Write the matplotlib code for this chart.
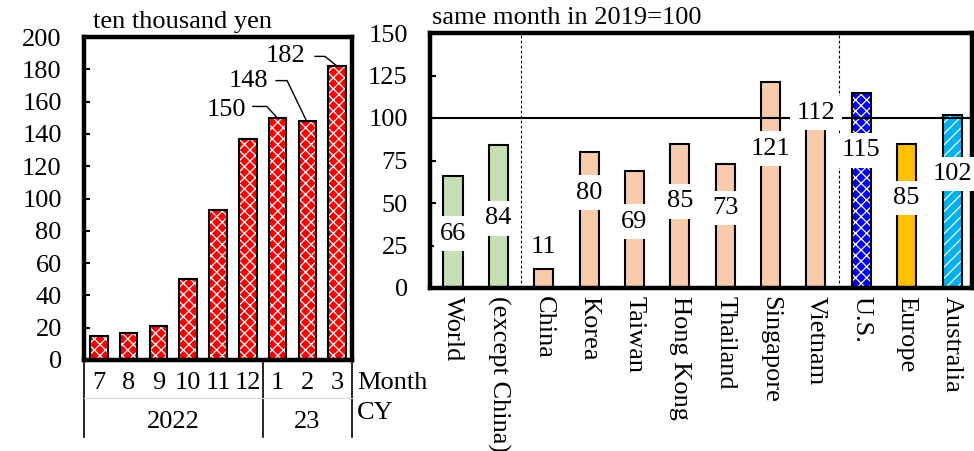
import numpy as np
import matplotlib
matplotlib.use("Agg")
import matplotlib.pyplot as plt
import matplotlib.transforms as mtransforms

# monthly spending per visitor (ten thousand yen)
months = ["7", "8", "9", "10", "11", "12", "1", "2", "3"]
years = ["2022", "23"]
spend = [15, 17, 21, 50, 93, 137, 150, 148, 182]

# visitors by origin, same month in 2019 = 100
regions = ["World", "(except China)", "China", "Korea", "Taiwan", "Hong Kong",
           "Thailand", "Singapore", "Vietnam", "U.S.", "Europe", "Australia"]
index = [66, 84, 11, 80, 69, 85, 73, 121, 112, 115, 85, 102]

plt.rcParams["font.family"] = ["Liberation Serif", "DejaVu Serif"]
plt.rcParams["hatch.linewidth"] = 0.9
FS = 19

fig = plt.figure(figsize=(9.74, 4.51), dpi=100)


def draw_bars(ax, x, h, width, color, hatch=None):
    # fill (hatch colour comes from the edge colour), then a black outline on top
    if hatch:
        ax.bar(x, h, width, color=color, edgecolor="white", hatch=hatch,
               linewidth=0, zorder=2)
    else:
        ax.bar(x, h, width, color=color, linewidth=0, zorder=2)
    ax.bar(x, h, width, fill=False, edgecolor="black", linewidth=1.5, zorder=2.5)


# ---------------- left panel ----------------
axL = fig.add_axes([84 / 974, 91 / 451, 268 / 974, 323 / 451])
xl = np.arange(len(spend))
draw_bars(axL, xl, spend, 0.59, "#ff0000", hatch="xxx")
axL.set_xlim(-0.5, len(spend) - 0.5)
axL.set_ylim(0, 200)
axL.set_yticks(range(0, 201, 20))
axL.set_xticks([])
axL.tick_params(axis="y", direction="in", length=4, width=1.5, pad=16, labelsize=FS)
for s in axL.spines.values():
    s.set_linewidth(3.2)

# leader-line labels for the last three months
callouts = {6: (4.27, 155, 5.17, 5.64, 157), 7: (5.01, 173, 5.95, 6.32, 173),
            8: (6.28, 188, 7.26, 7.59, 188)}
for i, (tx, ty, x0, x1, ly) in callouts.items():
    axL.text(tx, ty, str(spend[i]), fontsize=FS, ha="center", va="center")
    axL.plot([x0, x1, i - 0.04], [ly, ly, spend[i] + 0.5], color="black", lw=1, zorder=3)

tL = mtransforms.blended_transform_factory(axL.transData, axL.transAxes)
for i, m in enumerate(months):
    axL.text(i, -0.071, m, transform=tL, fontsize=FS, ha="center", va="center")
axL.text(2.5, -0.192, years[0], transform=tL, fontsize=FS, ha="center", va="center")
axL.text(7.0, -0.192, years[1], transform=tL, fontsize=FS, ha="center", va="center")
axL.text(1.019, -0.071, "Month", transform=axL.transAxes, fontsize=FS, ha="left", va="center")
axL.text(1.019, -0.164, "CY", transform=axL.transAxes, fontsize=FS, ha="left", va="center")
for xv in (-0.5, 5.5, 8.5):
    axL.plot([xv, xv], [0, -0.238], transform=tL, color="black", lw=1.2, clip_on=False)
axL.plot([-0.5, 8.5], [-0.118, -0.118], transform=tL, color="#d9d9d9", lw=0.8, clip_on=False)

fig.text(93 / 974, 1 - 22 / 451, "ten thousand yen", fontsize=FS, ha="left", va="center")

# ---------------- right panel ----------------
axR = fig.add_axes([430 / 974, 163 / 451, 542 / 974, 255 / 451])
xr = np.arange(len(regions))
colors = ["#c5e0b4"] * 2 + ["#f8cbad"] * 7 + ["#0000ff", "#ffc000", "#00b0f0"]
hatches = [None] * 9 + ["xxx", None, "///"]
for i in xr:
    draw_bars(axR, [i], [index[i]], 0.42, colors[i], hatches[i])

axR.set_xlim(-0.507, 11.44)
axR.set_ylim(0, 150)
axR.set_yticks(range(0, 151, 25))
axR.tick_params(axis="y", direction="in", length=4, width=1.5, pad=16, labelsize=FS)
axR.set_xticks(xr)
axR.set_xticklabels(regions, rotation=270, fontsize=FS)
axR.tick_params(axis="x", length=0, pad=6)
for s in axR.spines.values():
    s.set_linewidth(3.2)

axR.axhline(100, color="black", lw=1.5, zorder=3)
for xv in (1.5, 8.5):
    axR.axvline(xv, color="black", lw=0.8, ls=(0, (2.5, 2)), zorder=1)

# value labels sit in white boxes over the bars
label_y = [32, 41, 24, 56, 39, 51, 47, 82, 103, 81, 53, 67]
for i, v in enumerate(index):
    axR.text(i, label_y[i], str(v), fontsize=FS, ha="center", va="center", zorder=4,
             bbox=dict(facecolor="white", edgecolor="none", pad=4.5))

fig.text(432 / 974, 1 - 18 / 451, "same month in 2019=100", fontsize=FS, ha="left", va="center")

fig.savefig("out.png", dpi=100)
